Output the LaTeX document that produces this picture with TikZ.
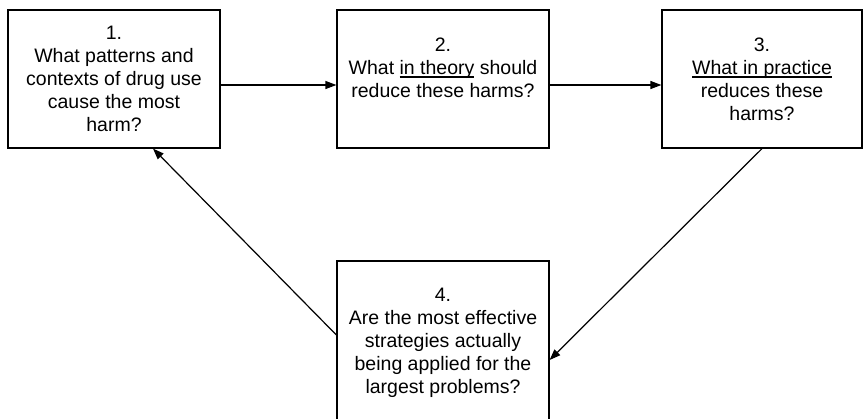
\documentclass[tikz,border=0pt]{standalone}
\usepackage{fontspec}
\setmainfont{Liberation Sans}
\usetikzlibrary{arrows.meta}
\newcommand\undl[1]{\setbox0\hbox{#1}\rlap{\rule[-3.5pt]{\wd0}{1.6pt}}\box0\relax}
\begin{document}
\begin{tikzpicture}[x=1pt,y=-1pt,
  question/.style={draw,line width=1.2pt,minimum width=212pt,minimum height=138pt,align=center,
    inner sep=0pt,font=\fontsize{19.5}{23}\selectfont},
  flow/.style={-{Triangle[length=11pt,width=8pt]},line width=1.2pt}
]
  \useasboundingbox (0,0) rectangle (864,418);
  \node[question] (box1) at (114,79) {1.\\What patterns and\\contexts of drug use\\cause the most\\harm?};
  \node[question] (box2) at (443,79) {2.\\What \undl{in theory} should\\reduce these harms?\\\mbox{}};
  \node[question,minimum width=200pt] (box3) at (762,79) {3.\\\undl{What in practice}\\reduces these\\harms?};
  \node[question,minimum height=164pt] (box4) at (443,343) {4.\\Are the most effective\\strategies actually\\being applied for the\\largest problems?};
  \draw[flow] ([yshift=-6pt]box1.east) -- ([yshift=-6pt]box2.west);
  \draw[flow] ([yshift=-6pt]box2.east) -- ([yshift=-6pt]box3.west);
  \draw[flow] (box3.south) -- ([yshift=-17pt]box4.east);
  \draw[flow] ([yshift=8pt]box4.west) -- ([xshift=39pt]box1.south);
\end{tikzpicture}
\end{document}
